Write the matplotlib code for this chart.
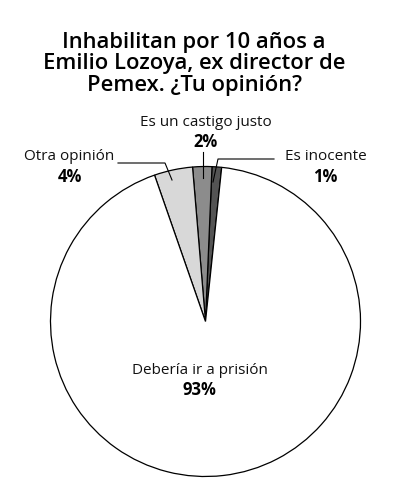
import matplotlib

matplotlib.use("Agg")
import matplotlib.pyplot as plt

# survey results, in pie order (counter-clockwise from just right of top)
categories = ["Es inocente", "Es un castigo justo", "Otra opinión", "Debería ir a prisión"]
values = [1, 2, 4, 93]
colors = ["#545454", "#8c8c8c", "#d8d8d8", "#ffffff"]
title = "Inhabilitan por 10 años a\nEmilio Lozoya, ex director de\nPemex. ¿Tu opinión?"

W, H = 393, 500
fig = plt.figure(figsize=(W / 100, H / 100), dpi=100)
ax = fig.add_axes([0, 0, 1, 1])


def py(y):
    # pixel row (from top) -> data y
    return H - y


ax.pie(
    values,
    colors=colors,
    startangle=84,
    counterclock=True,
    center=(205.5, py(321.5)),
    radius=155,
    wedgeprops=dict(edgecolor="black", linewidth=0.9),
    frame=True,
)
ax.set_xlim(0, W)
ax.set_ylim(0, H)
ax.set_aspect("equal")
ax.axis("off")

fig.text(0.494, 1 - 64 / H, title, ha="center", va="center",
         fontsize=15.8, fontweight="semibold", family="Open Sans", linespacing=1.03)

lab = dict(fontsize=11, family="Open Sans", ha="center", va="center", color="#111111")
pct = dict(fontsize=12, family="Open Sans", fontweight="bold", ha="center", va="center")

# Es un castigo justo
ax.text(206, py(123), categories[1], **lab)
ax.text(205.5, py(142), f"{values[1]}%", **pct)
ax.plot([203, 203], [py(152), py(178)], color="black", lw=0.8)

# Otra opinión
ax.text(69, py(157), categories[2], **lab)
ax.text(70, py(177), f"{values[2]}%", **pct)
ax.plot([118, 165, 172], [py(163), py(163), py(180)], color="black", lw=0.8)

# Es inocente
ax.text(326, py(157), categories[0], **lab)
ax.text(325.5, py(177), f"{values[0]}%", **pct)
ax.plot([274, 218, 213], [py(159), py(159), py(182)], color="black", lw=0.8)

# Debería ir a prisión
ax.text(200, py(370), categories[3], **lab)
ax.text(199.5, py(390), f"{values[3]}%", **pct)

fig.savefig("out.png", dpi=100)
